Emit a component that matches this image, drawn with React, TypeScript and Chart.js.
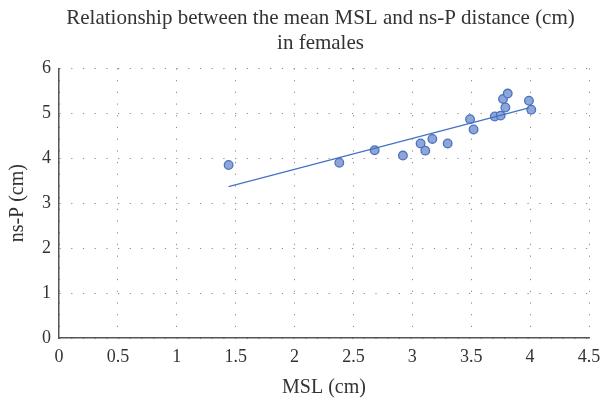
import React, { useEffect, useRef } from "react";
import { Chart, registerables } from "chart.js";

Chart.register(...registerables);

const mslValues = [1.44, 2.38, 2.68, 2.92, 3.07, 3.11, 3.17, 3.30, 3.49, 3.52, 3.70, 3.75, 3.77, 3.81, 3.79, 3.99, 4.01];
const nspValues = [3.85, 3.90, 4.18, 4.06, 4.33, 4.17, 4.43, 4.33, 4.87, 4.64, 4.93, 4.95, 5.32, 5.44, 5.13, 5.28, 5.08];
const trendX = [1.44, 3.99];
const trendY = [3.37, 5.12];
const titleLines = ["Relationship between the mean MSL and ns-P distance (cm)", "in females"];
const xTitle = "MSL (cm)";
const yTitle = "ns-P (cm)";

const FONT = "'Liberation Serif', 'Times New Roman', serif";
const TEXT = "#333333";

const shiftTitle = {
  id: "shiftTitle",
  afterLayout(chart: any) {
    const t = chart.titleBlock;
    if (t) {
      t.left += 26;
      t.right += 26;
    }
  },
};

export default function App() {
  const ref = useRef<HTMLCanvasElement | null>(null);
  useEffect(() => {
    if (!ref.current) return;
    const chart = new Chart(ref.current, {
      type: "scatter",
      data: {
        datasets: [
          {
            type: "line",
            data: trendX.map((x, i) => ({ x, y: trendY[i] })),
            borderColor: "#4472C4",
            borderWidth: 1.3,
            pointRadius: 0,
            fill: false,
          } as any,
          {
            data: mslValues.map((x, i) => ({ x, y: nspValues[i] })),
            backgroundColor: "#8EA5D8",
            borderColor: "#4A72C0",
            borderWidth: 1.3,
            pointRadius: 4.3,
          },
        ],
      },
      plugins: [shiftTitle],
      options: {
        animation: false,
        responsive: false,
        maintainAspectRatio: false,
        layout: { padding: { left: 0, right: 24, top: 0, bottom: 0 } },
        plugins: {
          legend: { display: false },
          tooltip: { enabled: false },
          title: {
            display: true,
            text: titleLines,
            color: TEXT,
            font: { family: FONT, size: 21, weight: "normal", lineHeight: 1.2 },
            padding: { top: 6, bottom: 12 },
          },
        },
        scales: {
          x: {
            type: "linear",
            min: 0,
            max: 4.5,
            ticks: {
              stepSize: 0.5,
              color: TEXT,
              font: { family: FONT, size: 18 },
              padding: 8,
              callback: (v: any) => String(Number(v)),
            },
            grid: { color: "#8a8a8a", lineWidth: 1, drawTicks: false },
            border: { display: true, color: "#555555", width: 1.5, dash: [1.2, 10.5] },
            title: { display: true, text: xTitle, color: TEXT, font: { family: FONT, size: 20 }, padding: { top: 4, bottom: 0 } },
            afterFit: (s: any) => { s.height = 62; },
          },
          y: {
            type: "linear",
            min: 0,
            max: 6,
            ticks: {
              stepSize: 1,
              color: TEXT,
              font: { family: FONT, size: 18 },
              padding: 8,
              callback: (v: any) => String(Number(v)),
            },
            grid: { color: "#8a8a8a", lineWidth: 1, drawTicks: false },
            border: { display: true, color: "#555555", width: 1.5, dash: [1.2, 10.5] },
            title: { display: true, text: yTitle, color: TEXT, font: { family: FONT, size: 20 }, padding: { top: 6, bottom: 4 } },
            afterFit: (s: any) => { s.width = 59; },
          },
        },
      },
    });
    return () => chart.destroy();
  }, []);
  return (
    <div style={{ position: "absolute", left: 0, top: 0, width: 613, height: 400, background: "#fff" }}>
      <canvas ref={ref} width={613} height={400} style={{ width: 613, height: 400 }} />
    </div>
  );
}
